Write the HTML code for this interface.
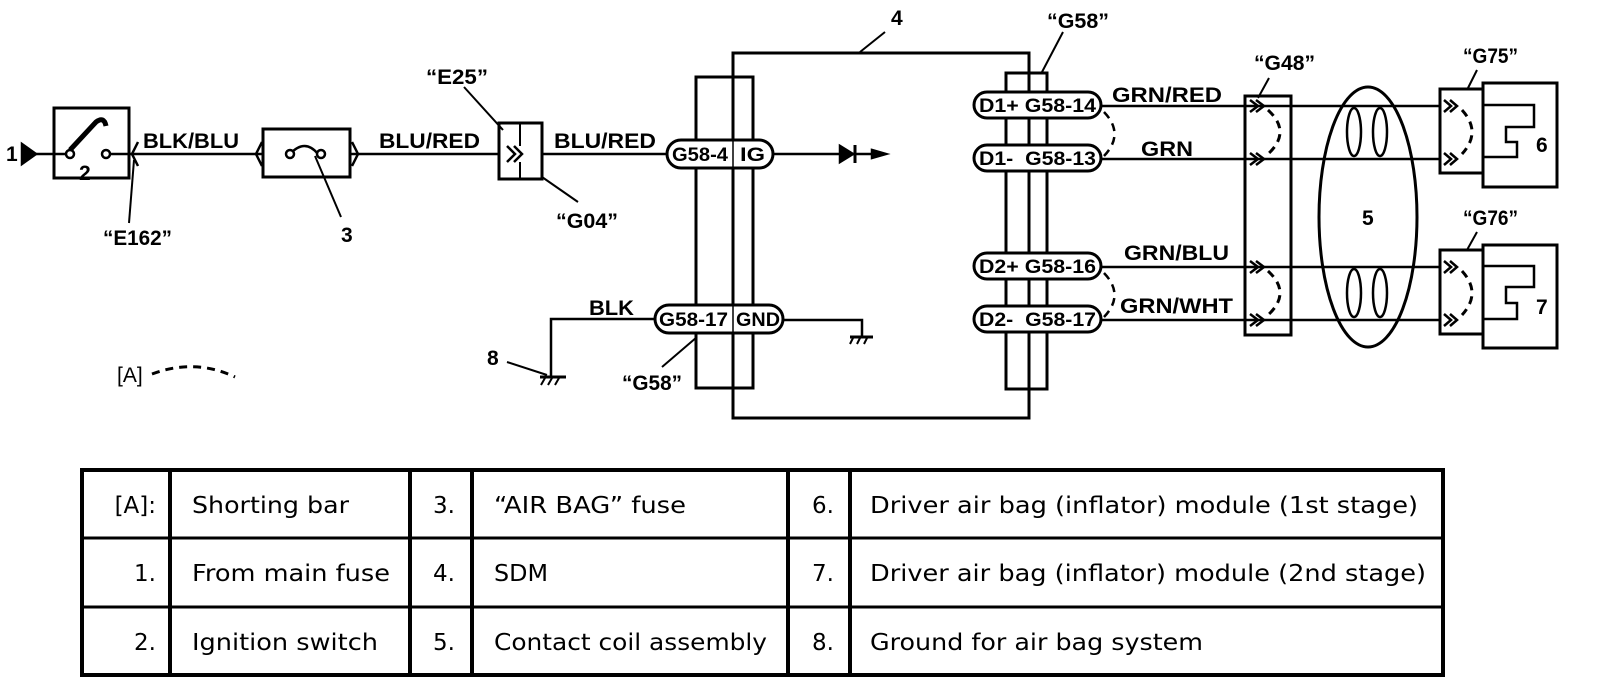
<!DOCTYPE html>
<html><head><meta charset="utf-8"><style>
html,body{margin:0;padding:0;background:#fff;}
svg{display:block;}
.t{font-family:"Liberation Sans",Arial,sans-serif;font-weight:bold;fill:#000;}
.tt{font-family:"DejaVu Sans","Liberation Sans",sans-serif;fill:#000;font-size:23px;}
</style></head><body>
<svg width="1600" height="694" viewBox="0 0 1600 694" xmlns="http://www.w3.org/2000/svg">
<g fill="none" stroke="#000" stroke-width="2.5">
<!-- left side -->
<polygon points="22,144 36,154 22,164" fill="#000"/>
<line x1="36" y1="154" x2="66" y2="154"/>
<rect x="54" y="108" width="75" height="70" stroke-width="3"/>
<path d="M70,150 L96,122 Q104,116 106,126" stroke-width="5"/>
<circle cx="70" cy="154" r="4" fill="#fff"/>
<circle cx="106" cy="154" r="4" fill="#fff"/>
<line x1="110" y1="154" x2="263" y2="154"/>
<path d="M138,142 L132,154 L138,166"/>
<line x1="134" y1="160" x2="129" y2="223" stroke-width="2"/>
<rect x="263" y="129" width="87" height="48" stroke-width="3"/>
<path d="M262,142 L256,154 L262,166"/>
<path d="M352,142 L358,154 L352,166"/>
<line x1="350" y1="154" x2="499" y2="154"/>
<path d="M290,154 Q305,138 318,154" />
<circle cx="290" cy="154" r="4" fill="#fff"/>
<circle cx="321" cy="154" r="4" fill="#fff"/>
<line x1="315" y1="156" x2="341" y2="217" stroke-width="2"/>
<rect x="499" y="123" width="43" height="56" stroke-width="3"/>
<line x1="520" y1="123" x2="520" y2="146" stroke-width="2"/>
<line x1="520" y1="162" x2="520" y2="179" stroke-width="2"/>
<path d="M507,146 L515,154 L507,162 M514,146 L522,154 L514,162"/>
<line x1="542" y1="154" x2="667" y2="154"/>
<line x1="464" y1="87" x2="503" y2="130" stroke-width="2"/>
<line x1="542" y1="177" x2="578" y2="202" stroke-width="2"/>
<!-- ground 8 -->
<polyline points="655,319 551,319 551,377"/>
<line x1="540" y1="377" x2="566" y2="377" stroke-width="3"/>
<path d="M545,378 l-4,7 M552,378 l-4,7 M559,378 l-4,7" stroke-width="2"/>
<line x1="507" y1="362" x2="547" y2="375" stroke-width="2"/>
<path d="M152,374 Q195,358 235,377" stroke-dasharray="8,6" stroke-width="3"/>
<!-- SDM -->
<rect x="733" y="53" width="296" height="365" stroke-width="3"/>
<line x1="885" y1="32" x2="860" y2="52" stroke-width="2"/>
<rect x="696" y="77" width="57" height="311" stroke-width="3"/>
<rect x="1006" y="73" width="41" height="316" stroke-width="3"/>
<line x1="1063" y1="32" x2="1042" y2="72" stroke-width="2"/>
<line x1="697" y1="337" x2="662" y2="367" stroke-width="2"/>
<line x1="773" y1="154" x2="872" y2="154"/>
<polygon points="840,146 853,154 840,162" fill="#000"/>
<line x1="855" y1="145" x2="855" y2="163" stroke-width="3"/>
<polygon points="872,150 886,154 872,158" fill="#000"/>
<polyline points="783,320 862,320 862,337"/>
<line x1="850" y1="337" x2="873" y2="337" stroke-width="3"/>
<path d="M853,338 l-3,6 M860,338 l-3,6 M867,338 l-3,6" stroke-width="2"/>
</g>
<!-- pills -->
<g fill="#fff" stroke="#000" stroke-width="3">
<rect x="667" y="140" width="106" height="28" rx="14"/>
<rect x="655" y="305" width="128" height="28" rx="14"/>
<rect x="974" y="92" width="127" height="26" rx="13"/>
<rect x="974" y="145" width="127" height="26" rx="13"/>
<rect x="974" y="253" width="127" height="26" rx="13"/>
<rect x="974" y="306" width="127" height="26" rx="13"/>
</g>
<g stroke="#000" stroke-width="1.5"><line x1="733" y1="140" x2="733" y2="168"/><line x1="733" y1="305" x2="733" y2="333"/></g>
<g class="t" font-size="19">
<text x="672" y="161" textLength="56" lengthAdjust="spacingAndGlyphs">G58-4</text><text x="740" y="161" textLength="25" lengthAdjust="spacingAndGlyphs">IG</text>
<text x="659" y="326" textLength="69" lengthAdjust="spacingAndGlyphs">G58-17</text><text x="736" y="326" textLength="44" lengthAdjust="spacingAndGlyphs">GND</text>
<text x="979" y="112" textLength="117" lengthAdjust="spacingAndGlyphs">D1+ G58-14</text>
<text x="979" y="165" textLength="117" lengthAdjust="spacingAndGlyphs">D1-&#160; G58-13</text>
<text x="979" y="273" textLength="117" lengthAdjust="spacingAndGlyphs">D2+ G58-16</text>
<text x="979" y="326" textLength="117" lengthAdjust="spacingAndGlyphs">D2-&#160; G58-17</text>
</g>
<!-- right wiring -->
<g fill="none" stroke="#000" stroke-width="2.5">
<line x1="1101" y1="106" x2="1440" y2="106"/>
<line x1="1101" y1="159" x2="1440" y2="159"/>
<line x1="1101" y1="267" x2="1440" y2="267"/>
<line x1="1101" y1="320" x2="1440" y2="320"/>
<path d="M1104,112 Q1125,134 1104,156" stroke-dasharray="8,6"/>
<path d="M1104,273 Q1125,295 1104,317" stroke-dasharray="8,6"/>
<rect x="1245" y="96" width="46" height="239" stroke-width="3"/>
<line x1="1269" y1="78" x2="1258" y2="98" stroke-width="2"/>
<path d="M1250,100 l8,6 l-8,6 M1256,100 l8,6 l-8,6 M1250,153 l8,6 l-8,6 M1256,153 l8,6 l-8,6 M1250,261 l8,6 l-8,6 M1256,261 l8,6 l-8,6 M1250,314 l8,6 l-8,6 M1256,314 l8,6 l-8,6"/>
<path d="M1268,110 Q1292,132 1268,154" stroke-dasharray="8,6" stroke-width="3"/>
<path d="M1268,271 Q1292,293 1268,315" stroke-dasharray="8,6" stroke-width="3"/>
<ellipse cx="1368" cy="217" rx="49" ry="130" stroke-width="3"/>
<ellipse cx="1354" cy="132" rx="7" ry="24" fill="#fff"/>
<ellipse cx="1380" cy="132" rx="7" ry="24" fill="#fff"/>
<ellipse cx="1354" cy="293" rx="7" ry="24" fill="#fff"/>
<ellipse cx="1380" cy="293" rx="7" ry="24" fill="#fff"/>
<!-- G75 / 6 -->
<rect x="1440" y="89" width="43" height="84" stroke-width="3"/>
<rect x="1483" y="83" width="74" height="104" stroke-width="3"/>
<polyline points="1483,105 1534,105 1534,127 1506,127 1506,142 1517,142 1517,157 1483,157"/>
<path d="M1444,100 l7,6 l-7,6 M1450,100 l7,6 l-7,6 M1444,153 l7,6 l-7,6 M1450,153 l7,6 l-7,6"/>
<path d="M1462,110 Q1482,132 1462,154" stroke-dasharray="8,6" stroke-width="3"/>
<line x1="1477" y1="70" x2="1467" y2="90" stroke-width="2"/>
<!-- G76 / 7 -->
<rect x="1440" y="250" width="43" height="84" stroke-width="3"/>
<rect x="1483" y="245" width="74" height="103" stroke-width="3"/>
<polyline points="1483,266 1534,266 1534,287 1506,287 1506,303 1517,303 1517,319 1483,319"/>
<path d="M1444,261 l7,6 l-7,6 M1450,261 l7,6 l-7,6 M1444,314 l7,6 l-7,6 M1450,314 l7,6 l-7,6"/>
<path d="M1462,271 Q1482,293 1462,315" stroke-dasharray="8,6" stroke-width="3"/>
<line x1="1477" y1="232" x2="1467" y2="250" stroke-width="2"/>
</g>
<!-- labels -->
<g class="t" font-size="21">
<text x="6" y="161">1</text>
<text x="79" y="180" font-size="21">2</text>
<text x="143" y="148" textLength="96" lengthAdjust="spacingAndGlyphs">BLK/BLU</text>
<text x="379" y="148" textLength="101" lengthAdjust="spacingAndGlyphs">BLU/RED</text>
<text x="554" y="148" textLength="102" lengthAdjust="spacingAndGlyphs">BLU/RED</text>
<text x="426" y="84" textLength="62" lengthAdjust="spacingAndGlyphs">“E25”</text>
<text x="103" y="245" textLength="69" lengthAdjust="spacingAndGlyphs">“E162”</text>
<text x="341" y="242">3</text>
<text x="556" y="228" textLength="62" lengthAdjust="spacingAndGlyphs">“G04”</text>
<text x="589" y="315" textLength="45" lengthAdjust="spacingAndGlyphs">BLK</text>
<text x="487" y="365">8</text>
<text x="117" y="382" font-weight="normal">[A]</text>
<text x="622" y="390" textLength="60" lengthAdjust="spacingAndGlyphs">“G58”</text>
<text x="891" y="25">4</text>
<text x="1047" y="28" textLength="62" lengthAdjust="spacingAndGlyphs">“G58”</text>
<text x="1112" y="102" textLength="110" lengthAdjust="spacingAndGlyphs">GRN/RED</text>
<text x="1141" y="156" textLength="52" lengthAdjust="spacingAndGlyphs">GRN</text>
<text x="1124" y="260" textLength="105" lengthAdjust="spacingAndGlyphs">GRN/BLU</text>
<text x="1120" y="313" textLength="113" lengthAdjust="spacingAndGlyphs">GRN/WHT</text>
<text x="1254" y="70" textLength="61" lengthAdjust="spacingAndGlyphs">“G48”</text>
<text x="1362" y="225">5</text>
<text x="1463" y="63" textLength="55" lengthAdjust="spacingAndGlyphs">“G75”</text>
<text x="1463" y="225" textLength="55" lengthAdjust="spacingAndGlyphs">“G76”</text>
<text x="1536" y="152">6</text>
<text x="1536" y="314">7</text>
</g>
<!-- table -->
<g fill="none" stroke="#000" stroke-width="4">
<rect x="82" y="470" width="1361" height="205"/>
<line x1="82" y1="538" x2="1443" y2="538" stroke-width="3"/>
<line x1="82" y1="607" x2="1443" y2="607" stroke-width="3"/>
<line x1="170" y1="470" x2="170" y2="675"/>
<line x1="410" y1="470" x2="410" y2="675"/>
<line x1="472" y1="470" x2="472" y2="675"/>
<line x1="788" y1="470" x2="788" y2="675"/>
<line x1="850" y1="470" x2="850" y2="675"/>
</g>
<g class="tt">
<text x="156" y="513" text-anchor="end">[A]:</text>
<text x="156" y="581" text-anchor="end">1.</text>
<text x="156" y="650" text-anchor="end">2.</text>
<text x="192" y="513" textLength="157" lengthAdjust="spacingAndGlyphs">Shorting bar</text>
<text x="192" y="581" textLength="198" lengthAdjust="spacingAndGlyphs">From main fuse</text>
<text x="192" y="650" textLength="186" lengthAdjust="spacingAndGlyphs">Ignition switch</text>
<text x="455" y="513" text-anchor="end">3.</text>
<text x="455" y="581" text-anchor="end">4.</text>
<text x="455" y="650" text-anchor="end">5.</text>
<text x="494" y="513" textLength="192" lengthAdjust="spacingAndGlyphs">“AIR BAG” fuse</text>
<text x="494" y="581" textLength="54" lengthAdjust="spacingAndGlyphs">SDM</text>
<text x="494" y="650" textLength="273" lengthAdjust="spacingAndGlyphs">Contact coil assembly</text>
<text x="834" y="513" text-anchor="end">6.</text>
<text x="834" y="581" text-anchor="end">7.</text>
<text x="834" y="650" text-anchor="end">8.</text>
<text x="870" y="513" textLength="548" lengthAdjust="spacingAndGlyphs">Driver air bag (inflator) module (1st stage)</text>
<text x="870" y="581" textLength="556" lengthAdjust="spacingAndGlyphs">Driver air bag (inflator) module (2nd stage)</text>
<text x="870" y="650" textLength="333" lengthAdjust="spacingAndGlyphs">Ground for air bag system</text>
</g>
</svg>
</body></html>
